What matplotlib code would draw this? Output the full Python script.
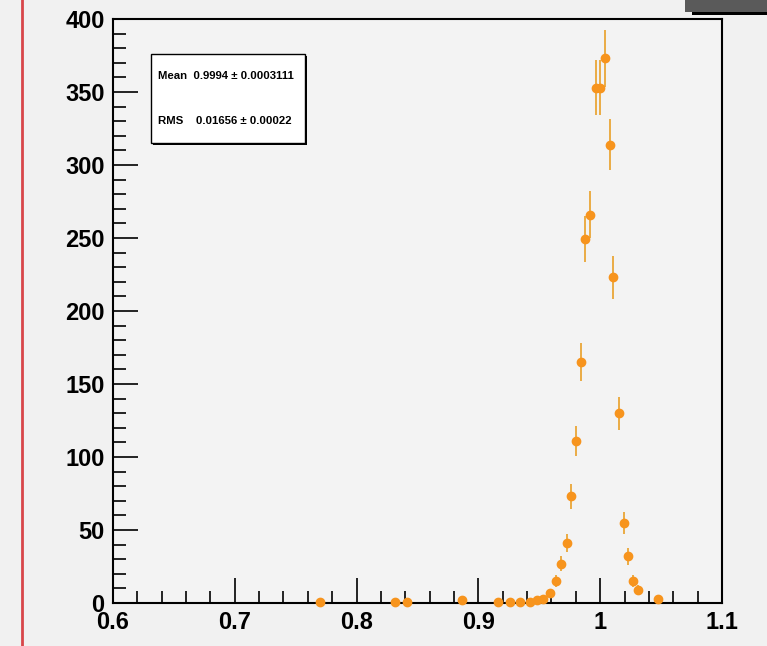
import numpy as np
import matplotlib.pyplot as plt
from matplotlib.patches import Rectangle
from matplotlib.lines import Line2D
from matplotlib.ticker import MultipleLocator

# bin centres and entries of the ratio histogram
x_vals = [0.770, 0.8315, 0.841, 0.8865, 0.916, 0.926, 0.934, 0.942, 0.948, 0.953,
          0.9588, 0.9637, 0.9678, 0.9727, 0.976, 0.980, 0.9842, 0.9875, 0.9916,
          0.9965, 0.9998, 1.004, 1.008, 1.0105, 1.0154, 1.0195, 1.0228, 1.027,
          1.031, 1.0475]
counts = [1, 1, 1, 2, 1, 1, 1, 1, 2, 3,
          7, 15, 27, 41, 73, 111, 165, 249, 266,
          353, 353, 373, 314, 223, 130, 55, 32, 15,
          9, 3]
stat_lines = ["Mean  0.9994 \u00b1 0.0003111", "RMS    0.01656 \u00b1 0.00022"]

x = np.array(x_vals)
y = np.array(counts, dtype=float)
yerr = np.sqrt(y)

plt.rcParams['font.family'] = ['Liberation Sans', 'DejaVu Sans']

fig = plt.figure(figsize=(7.67, 6.46), dpi=100)
fig.patch.set_facecolor('#f1f1f1')
ax = fig.add_axes([0.1473, 0.0666, 0.794, 0.904])
ax.set_facecolor('#f3f3f3')

eb = ax.errorbar(x, y, yerr=yerr, xerr=0.0015, fmt='o', color='#f7941d', ecolor='#e9a028',
                 elinewidth=1.2, markersize=6, capsize=0, zorder=3)
for art in eb.lines[0:1] + tuple(eb.lines[2]):
    art.set_clip_on(False)

ax.set_xlim(0.6, 1.1)
ax.set_ylim(0, 400)
ax.xaxis.set_major_locator(MultipleLocator(0.1))
ax.xaxis.set_minor_locator(MultipleLocator(0.02))
ax.yaxis.set_major_locator(MultipleLocator(50))
ax.yaxis.set_minor_locator(MultipleLocator(10))
ax.tick_params(which='both', direction='in', top=False, right=False, width=1.2,
               labelsize=17, colors='black')
ax.tick_params(which='major', length=18, pad=6)
ax.tick_params(which='minor', length=9)
for lbl in ax.get_yticklabels():
    lbl.set_fontweight('bold')
ax.set_xticks([0.6, 0.7, 0.8, 0.9, 1.0, 1.1])
ax.set_xticklabels(['0.6', '0.7', '0.8', '0.9', '1', '1.1'], fontweight='bold')
for s in ax.spines.values():
    s.set_linewidth(1.5)
    s.set_color('black')

# statistics box with a drop shadow
bx, by, bw, bh = 151 / 767, (646 - 143) / 646, 154 / 767, 89 / 646
fig.add_artist(Rectangle((bx + 2 / 767, by - 2 / 646), bw, bh, transform=fig.transFigure,
                         facecolor='black', edgecolor='none', zorder=5))
fig.add_artist(Rectangle((bx, by), bw, bh, transform=fig.transFigure,
                         facecolor='white', edgecolor='black', linewidth=1.0, zorder=6))
fig.text(158 / 767, (646 - 76) / 646, stat_lines[0], fontsize=8.2, fontweight='bold',
         va='center', ha='left', zorder=7)
fig.text(158 / 767, (646 - 121) / 646, stat_lines[1], fontsize=8.2, fontweight='bold',
         va='center', ha='left', zorder=7)

# red margin line on the left
fig.add_artist(Line2D([22 / 767, 22 / 767], [0, 1], transform=fig.transFigure,
                      color='#d8464a', linewidth=2))

# dark title box corner at the top right
fig.add_artist(Rectangle((692 / 767, (646 - 15) / 646), 75 / 767, 15 / 646,
                         transform=fig.transFigure, facecolor='black', edgecolor='none'))
fig.add_artist(Rectangle((685 / 767, (646 - 12) / 646), 82 / 767, 12 / 646,
                         transform=fig.transFigure, facecolor='#5a5a5a', edgecolor='none'))

fig.savefig('out.png', dpi=100)
